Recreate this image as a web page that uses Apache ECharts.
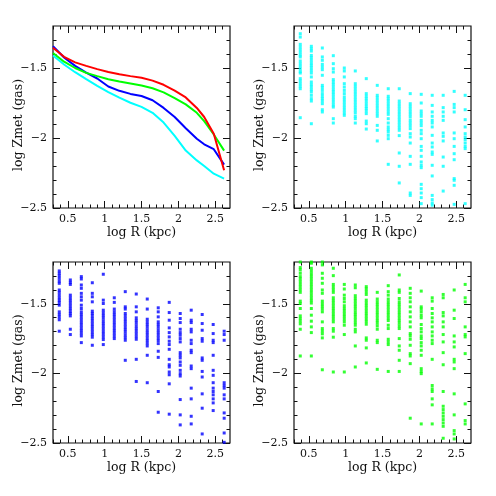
<!DOCTYPE html>
<html>
<head>
<meta charset="utf-8">
<script src="https://cdn.jsdelivr.net/npm/echarts@6/dist/echarts.min.js"></script>
<style>
html, body { margin: 0; padding: 0; background: #fff; }
#chart { width: 496px; height: 496px; }
</style>
</head>
<body>
<div id="chart"></div>
<script>
// ticks
const xMajor = [0.5, 1, 1.5, 2, 2.5];
const xMajorLabels = ['0.5', '1', '1.5', '2', '2.5'];
const xMinor = [0.3, 0.4, 0.6, 0.7, 0.8, 0.9, 1.1, 1.2, 1.3, 1.4, 1.6, 1.7, 1.8, 1.9, 2.1, 2.2, 2.3, 2.4, 2.6];
const yMajor = [-2.5, -2, -1.5];
const yMajorLabels = ['−2.5', '−2', '−1.5'];
const yMinor = [-2.4, -2.3, -2.2, -2.1, -1.9, -1.8, -1.7, -1.6, -1.4, -1.3];

// top-left panel: the four curves
const lineR = [0.30, 0.45, 0.60, 0.75, 0.90, 1.05, 1.20, 1.35, 1.50, 1.65, 1.80, 1.95, 2.10, 2.25, 2.35, 2.48, 2.62];
const zRed = [-1.355, -1.42, -1.46, -1.485, -1.508, -1.528, -1.545, -1.558, -1.57, -1.59, -1.62, -1.662, -1.71, -1.785, -1.85, -1.97, -2.23];
const zGreen = [-1.393, -1.455, -1.50, -1.535, -1.558, -1.58, -1.597, -1.61, -1.625, -1.645, -1.674, -1.715, -1.76, -1.82, -1.88, -1.975, -2.09];
const zBlue = [-1.345, -1.425, -1.485, -1.533, -1.575, -1.632, -1.663, -1.685, -1.70, -1.73, -1.785, -1.85, -1.93, -2.005, -2.045, -2.08, -2.19];
const zCyan = [-1.41, -1.475, -1.53, -1.58, -1.628, -1.672, -1.712, -1.748, -1.778, -1.82, -1.89, -1.985, -2.09, -2.16, -2.20, -2.255, -2.29];

// scatter panels: radial bins and the values in each bin
const binR = [0.385, 0.535, 0.684, 0.833, 0.982, 1.131, 1.280, 1.429, 1.578, 1.727, 1.876, 2.025, 2.174, 2.323, 2.472, 2.621];

const cyanZ = [
    [-1.255, -1.279, -1.331, -1.35, -1.369, -1.388, -1.407, -1.421, -1.45, -1.469, -1.488, -1.507, -1.526, -1.536, -1.576, -1.593, -1.612, -1.631, -1.648, -1.855],
    [-1.345, -1.362, -1.379, -1.41, -1.426, -1.445, -1.464, -1.481, -1.498, -1.517, -1.536, -1.564, -1.6, -1.619, -1.636, -1.655, -1.671, -1.695, -1.719, -1.736, -1.898],
    [-1.357, -1.421, -1.445, -1.474, -1.493, -1.512, -1.552, -1.624, -1.64, -1.66, -1.683, -1.702, -1.719, -1.736, -1.755, -1.798, -1.814],
    [-1.412, -1.469, -1.505, -1.529, -1.583, -1.6, -1.617, -1.636, -1.655, -1.671, -1.688, -1.707, -1.726, -1.745, -1.764, -1.779, -1.862, -1.893],
    [-1.5, -1.521, -1.564, -1.612, -1.636, -1.66, -1.683, -1.707, -1.726, -1.745, -1.764, -1.783, -1.802, -1.821, -1.838],
    [-1.521, -1.612, -1.631, -1.65, -1.669, -1.688, -1.707, -1.726, -1.745, -1.764, -1.783, -1.802, -1.821, -1.845, -1.862, -1.893],
    [-1.576, -1.683, -1.702, -1.719, -1.736, -1.755, -1.774, -1.79, -1.807, -1.826, -1.879, -1.898, -1.936],
    [-1.624, -1.695, -1.712, -1.731, -1.75, -1.769, -1.788, -1.807, -1.826, -1.845, -1.91, -1.945, -2.021],
    [-1.648, -1.702, -1.719, -1.736, -1.755, -1.774, -1.793, -1.812, -1.831, -1.862, -1.893, -1.921, -1.94, -1.957, -1.981, -2.005, -2.188],
    [-1.648, -1.736, -1.755, -1.774, -1.793, -1.812, -1.831, -1.85, -1.869, -1.888, -1.907, -1.926, -1.945, -1.983, -2.107, -2.202, -2.321],
    [-1.683, -1.755, -1.774, -1.793, -1.812, -1.831, -1.85, -1.874, -1.893, -1.912, -1.933, -1.969, -1.993, -2.036, -2.131, -2.188, -2.393, -2.41],
    [-1.688, -1.75, -1.807, -1.826, -1.845, -1.874, -1.893, -1.912, -1.945, -1.969, -2.005, -2.06, -2.088, -2.131, -2.171, -2.195, -2.212, -2.331, -2.362, -2.393, -2.426, -2.469],
    [-1.695, -1.767, -1.814, -1.845, -1.874, -1.893, -1.921, -1.981, -2.036, -2.064, -2.1, -2.117, -2.195, -2.271, -2.41, -2.44, -2.464, -2.48],
    [-1.695, -1.783, -1.814, -1.845, -1.874, -1.964, -1.988, -2.021, -2.136, -2.202, -2.379],
    [-1.667, -1.76, -1.783, -1.814, -1.964, -2.005, -2.06, -2.112, -2.155, -2.29, -2.302, -2.338, -2.474],
    [-1.695, -1.798, -1.869, -1.921, -1.969, -1.993, -2.012, -2.036, -2.06, -2.076, -2.469]
];

const blueZ = [
    [-1.264, -1.281, -1.298, -1.317, -1.337, -1.353, -1.401, -1.418, -1.438, -1.457, -1.474, -1.49, -1.51, -1.558, -1.577, -1.596, -1.615, -1.697],
    [-1.329, -1.346, -1.361, -1.438, -1.457, -1.476, -1.495, -1.514, -1.534, -1.553, -1.57, -1.587, -1.683, -1.721],
    [-1.305, -1.322, -1.365, -1.389, -1.425, -1.45, -1.474, -1.51, -1.534, -1.558, -1.577, -1.596, -1.615, -1.635, -1.654, -1.673, -1.692, -1.712, -1.731, -1.779],
    [-1.349, -1.425, -1.45, -1.486, -1.553, -1.57, -1.587, -1.606, -1.625, -1.644, -1.663, -1.683, -1.702, -1.721, -1.74, -1.798],
    [-1.288, -1.474, -1.498, -1.546, -1.565, -1.584, -1.603, -1.623, -1.642, -1.661, -1.68, -1.7, -1.719, -1.738, -1.757, -1.793],
    [-1.457, -1.49, -1.538, -1.558, -1.577, -1.596, -1.615, -1.635, -1.654, -1.673, -1.692, -1.712, -1.731, -1.75],
    [-1.413, -1.522, -1.538, -1.57, -1.589, -1.608, -1.627, -1.647, -1.666, -1.685, -1.704, -1.724, -1.743, -1.762, -1.906],
    [-1.43, -1.522, -1.558, -1.601, -1.62, -1.639, -1.659, -1.678, -1.697, -1.716, -1.736, -1.755, -1.899, -2.058],
    [-1.466, -1.538, -1.611, -1.63, -1.649, -1.668, -1.688, -1.707, -1.726, -1.745, -1.764, -1.784, -1.803, -1.87, -2.067],
    [-1.529, -1.558, -1.594, -1.63, -1.649, -1.668, -1.688, -1.707, -1.726, -1.745, -1.764, -1.786, -1.841, -1.885, -2.13, -2.279],
    [-1.49, -1.563, -1.618, -1.673, -1.707, -1.738, -1.769, -1.793, -1.827, -1.899, -1.938, -1.954, -1.99, -2.01, -2.075, -2.293],
    [-1.57, -1.606, -1.635, -1.683, -1.707, -1.726, -1.75, -1.774, -1.851, -1.87, -1.889, -1.918, -1.942, -1.978, -2.002, -2.019, -2.188, -2.298, -2.37],
    [-1.546, -1.618, -1.635, -1.683, -1.702, -1.762, -1.786, -1.834, -1.851, -1.947, -1.966, -2.106, -2.183, -2.308, -2.363],
    [-1.577, -1.642, -1.69, -1.75, -1.769, -1.889, -1.906, -1.986, -2.026, -2.147, -2.25, -2.435],
    [-1.649, -1.714, -1.762, -1.779, -1.87, -1.978, -2.014, -2.067, -2.106, -2.13, -2.154, -2.183, -2.212, -2.267],
    [-1.697, -1.721, -1.762, -2.067, -2.087, -2.106, -2.154, -2.183, -2.284, -2.322, -2.428, -2.495]
];

const greenZ = [
    [-1.2, -1.24, -1.257, -1.281, -1.305, -1.322, -1.341, -1.361, -1.38, -1.399, -1.418, -1.481, -1.498, -1.534, -1.587, -1.606, -1.625, -1.644, -1.683, -1.875],
    [-1.2, -1.209, -1.245, -1.264, -1.284, -1.303, -1.322, -1.341, -1.361, -1.38, -1.399, -1.418, -1.438, -1.457, -1.476, -1.495, -1.534, -1.582, -1.625, -1.666, -1.707, -1.875],
    [-1.2, -1.221, -1.281, -1.317, -1.353, -1.401, -1.425, -1.481, -1.5, -1.519, -1.538, -1.558, -1.63, -1.678, -1.697, -1.716, -1.745, -1.974],
    [-1.245, -1.298, -1.361, -1.38, -1.399, -1.418, -1.457, -1.476, -1.495, -1.514, -1.534, -1.553, -1.572, -1.591, -1.611, -1.63, -1.678, -1.697, -1.74, -1.99],
    [-1.361, -1.394, -1.438, -1.462, -1.486, -1.514, -1.534, -1.553, -1.572, -1.591, -1.611, -1.63, -1.654, -1.721, -1.99],
    [-1.365, -1.385, -1.442, -1.462, -1.481, -1.5, -1.519, -1.538, -1.558, -1.577, -1.596, -1.615, -1.635, -1.654, -1.683, -1.702, -1.803, -1.954],
    [-1.377, -1.394, -1.413, -1.433, -1.474, -1.493, -1.512, -1.531, -1.55, -1.57, -1.589, -1.608, -1.627, -1.647, -1.745, -1.762, -1.817, -1.925],
    [-1.418, -1.466, -1.486, -1.505, -1.524, -1.543, -1.563, -1.582, -1.601, -1.62, -1.639, -1.659, -1.683, -1.762, -1.779, -1.971],
    [-1.37, -1.413, -1.438, -1.466, -1.486, -1.505, -1.524, -1.543, -1.563, -1.582, -1.601, -1.62, -1.654, -1.678, -1.755, -1.774, -1.793, -1.986],
    [-1.293, -1.401, -1.418, -1.462, -1.486, -1.505, -1.524, -1.543, -1.563, -1.582, -1.601, -1.62, -1.639, -1.659, -1.678, -1.75, -1.803, -1.834, -1.906, -1.986],
    [-1.389, -1.425, -1.457, -1.486, -1.522, -1.558, -1.594, -1.63, -1.666, -1.714, -1.731, -1.755, -1.798, -1.858, -1.875, -1.93, -2.322],
    [-1.409, -1.522, -1.538, -1.558, -1.582, -1.601, -1.649, -1.678, -1.702, -1.731, -1.75, -1.779, -1.803, -1.834, -1.87, -1.966, -1.986, -2.002, -2.363],
    [-1.457, -1.481, -1.534, -1.57, -1.601, -1.63, -1.666, -1.702, -1.731, -1.762, -1.786, -1.899, -2.087, -2.111, -2.13, -2.183, -2.226, -2.363],
    [-1.433, -1.457, -1.563, -1.587, -1.63, -1.666, -1.721, -1.774, -1.851, -1.938, -2.13, -2.236, -2.26, -2.284, -2.308, -2.332, -2.356, -2.38, -2.466],
    [-1.401, -1.546, -1.606, -1.731, -1.774, -1.81, -1.899, -1.918, -1.966, -2.147, -2.298, -2.411, -2.435, -2.471],
    [-1.361, -1.457, -1.486, -1.666, -1.721, -1.738, -1.858, -2.219, -2.339, -2.363]
];

const FONT = 'DejaVu Serif';
const INK = '#111';

const grids = [
    { left: 53, top: 26, width: 177, height: 182 },
    { left: 294, top: 26, width: 177, height: 182 },
    { left: 53, top: 262, width: 177, height: 181 },
    { left: 294, top: 262, width: 177, height: 181 }
];

const xAxes = [];
const yAxes = [];

function tickAxis(g, pos, min, max, ticks, len) {
    return {
        type: 'value', gridIndex: g, position: pos, min: min, max: max,
        axisLine: { show: false },
        splitLine: { show: false },
        axisTick: { show: true, inside: true, length: len, customValues: ticks, lineStyle: { color: INK, width: 1 } },
        axisLabel: { show: false }
    };
}

grids.forEach((gr, g) => {
    // main x axis, with labels and name
    const mx = tickAxis(g, 'bottom', 0.3, 2.7, xMajor, 7);
    mx.axisLabel = {
        show: true, customValues: xMajor, margin: 6,
        fontFamily: FONT, fontSize: 11, color: INK,
        formatter: v => xMajorLabels[xMajor.indexOf(v)]
    };
    mx.name = 'log R (kpc)';
    mx.nameLocation = 'middle';
    mx.nameGap = 18;
    mx.nameMoveOverlap = false;
    mx.nameTextStyle = { fontFamily: FONT, fontSize: 12.5, color: INK };
    xAxes.push(mx);
    xAxes.push(tickAxis(g, 'bottom', 0.3, 2.7, xMinor, 3.5));
    xAxes.push(tickAxis(g, 'top', 0.3, 2.7, xMajor, 7));
    xAxes.push(tickAxis(g, 'top', 0.3, 2.7, xMinor, 3.5));

    const my = tickAxis(g, 'left', -2.5, -1.2, yMajor, 7);
    my.axisLabel = {
        show: true, customValues: yMajor, margin: 6,
        fontFamily: FONT, fontSize: 11, color: INK,
        formatter: v => yMajorLabels[yMajor.indexOf(v)]
    };
    my.name = 'log Zmet (gas)';
    my.nameLocation = 'middle';
    my.nameGap = 28;
    my.nameMoveOverlap = false;
    my.nameTextStyle = { fontFamily: FONT, fontSize: 12.5, color: INK, padding: [0, 16, 0, 0] };
    yAxes.push(my);
    yAxes.push(tickAxis(g, 'left', -2.5, -1.2, yMinor, 3.5));
    yAxes.push(tickAxis(g, 'right', -2.5, -1.2, yMajor, 7));
    yAxes.push(tickAxis(g, 'right', -2.5, -1.2, yMinor, 3.5));
});

function curve(z, color) {
    return {
        type: 'line', xAxisIndex: 0, yAxisIndex: 0,
        data: lineR.map((r, i) => [r, z[i]]),
        showSymbol: false, symbol: 'none',
        lineStyle: { color: color, width: 2 },
        itemStyle: { color: color }
    };
}

function scatter(g, bins, color) {
    const pts = [];
    bins.forEach((col, i) => col.forEach(z => pts.push([binR[i], z])));
    return {
        type: 'scatter', xAxisIndex: 4 * g, yAxisIndex: 4 * g,
        data: pts, symbol: 'rect', symbolSize: 3,
        itemStyle: { color: color }
    };
}

const chart = echarts.init(document.getElementById('chart'));
chart.setOption({
    animation: false,
    backgroundColor: '#fff',
    grid: grids.map(gr => Object.assign({ show: true, borderColor: INK, borderWidth: 1.2, backgroundColor: 'transparent' }, gr)),
    xAxis: xAxes,
    yAxis: yAxes,
    series: [
        curve(zCyan, '#00ffff'),
        curve(zBlue, '#0000ff'),
        curve(zGreen, '#00ff00'),
        curve(zRed, '#ff0000'),
        scatter(1, cyanZ, '#00ffff'),
        scatter(2, blueZ, '#0000ff'),
        scatter(3, greenZ, '#00ff00')
    ]
});
</script>
</body>
</html>
